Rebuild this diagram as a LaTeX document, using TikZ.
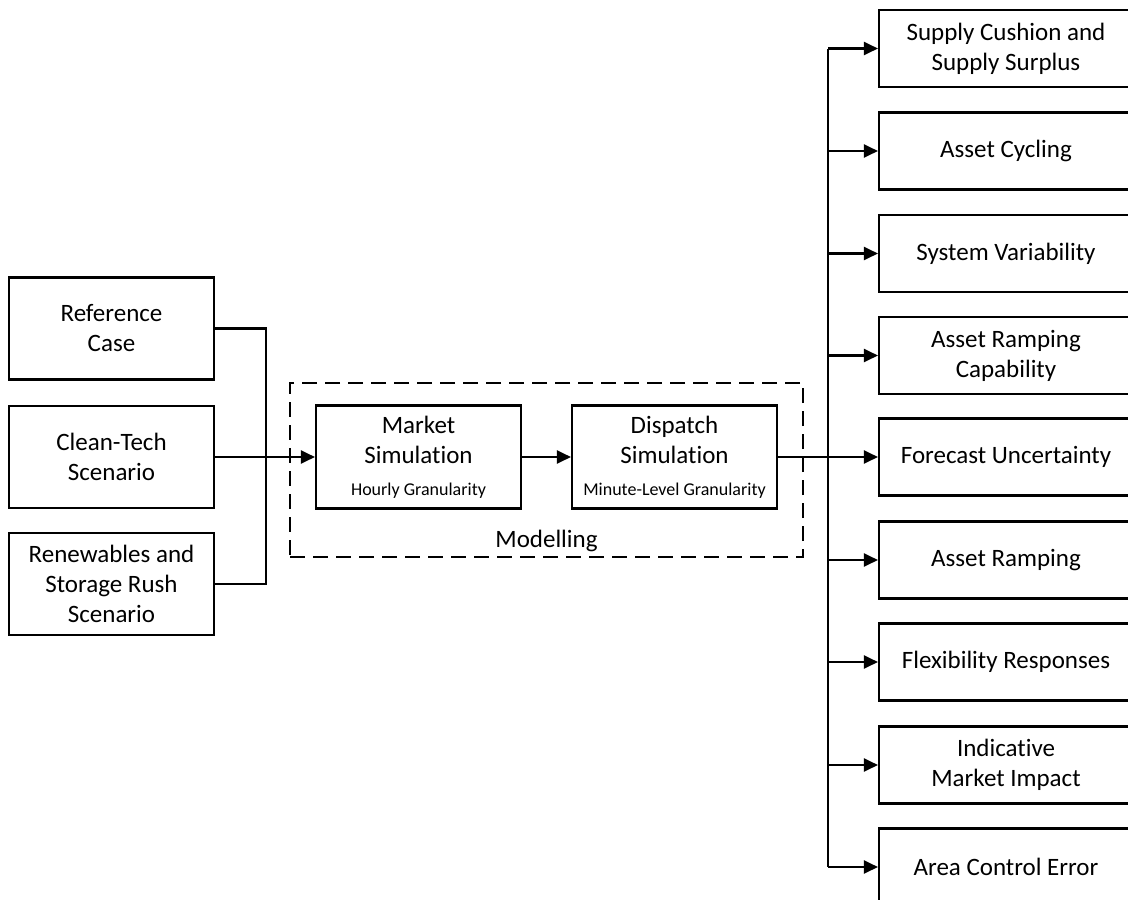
\documentclass[tikz,border=0pt]{standalone}
\usepackage{fontspec}
\setmainfont{Carlito}[Ligatures={NoCommon}]
\usetikzlibrary{arrows.meta}
\begin{document}
\begin{tikzpicture}[x=1pt,y=-1pt,
  box/.style={draw, line width=2.1pt, align=center, inner sep=0pt,
    font=\fontsize{25}{30}\selectfont},
  leftbox/.style={box, minimum width=205pt, minimum height=102pt},
  simbox/.style={box, minimum width=205pt, minimum height=103pt},
  outbox/.style={box, minimum width=254pt, minimum height=77pt},
  conn/.style={line width=2.1pt},
  arr/.style={conn, -{Triangle[length=14pt,width=13pt]}},
  small/.style={font=\fontsize{18}{20}\selectfont}]
\useasboundingbox (0,0) rectangle (1128,900);
\clip (0,0) rectangle (1128,900);
% left inputs
\node[leftbox] (ref) at (111.5,328.5) {Reference\\Case};
\node[leftbox] (clean) at (111.5,457) {Clean-Tech\\Scenario};
\node[leftbox] (ren) at (111.5,584) {Renewables and\\Storage Rush\\Scenario};
% modelling
\node[draw, line width=2.1pt, dash pattern=on 15pt off 8pt, minimum width=513pt, minimum height=174pt, inner sep=0pt] (model) at (546.5,470) {};
\node[font=\fontsize{25}{30}\selectfont] (modlabel) at (546.5,541) {Modelling};
\node[simbox] (market) at (418.5,457) {Market\\Simulation\\[2pt]{\fontsize{18}{20}\selectfont Hourly Granularity}};
\node[simbox] (dispatch) at (674.5,457) {Dispatch\\Simulation\\[2pt]{\fontsize{18}{20}\selectfont Minute-Level Granularity}};
% outputs
\node[outbox] (o1) at (1006,48.5) {Supply Cushion and\\Supply Surplus};
\node[outbox] (o2) at (1006,151) {Asset Cycling};
\node[outbox] (o3) at (1006,253.5) {System Variability};
\node[outbox] (o4) at (1006,355.5) {Asset Ramping\\Capability};
\node[outbox] (o5) at (1006,457) {Forecast Uncertainty};
\node[outbox] (o6) at (1006,560) {Asset Ramping};
\node[outbox] (o7) at (1006,662) {Flexibility Responses};
\node[outbox] (o8) at (1006,765) {Indicative\\Market Impact};
\node[outbox] (o9) at (1006,867) {Area Control Error};
% connectors
\coordinate (j1) at (266,457);
\coordinate (bx) at (828,0);
\draw[conn] (ref.east) -| (j1);
\draw[conn] (ren.east) -| (j1);
\draw[arr] (clean.east) -- (market.west);
\draw[arr] (market.east) -- (dispatch.west);
\draw[arr] (dispatch.east) -- (o5.west);
\draw[conn] (o1.west -| bx) -- (o9.west -| bx);
\foreach \i in {1,2,3,4,6,7,8,9} {
  \draw[arr] (o\i.west -| bx) -- (o\i.west);
}
\end{tikzpicture}
\end{document}
